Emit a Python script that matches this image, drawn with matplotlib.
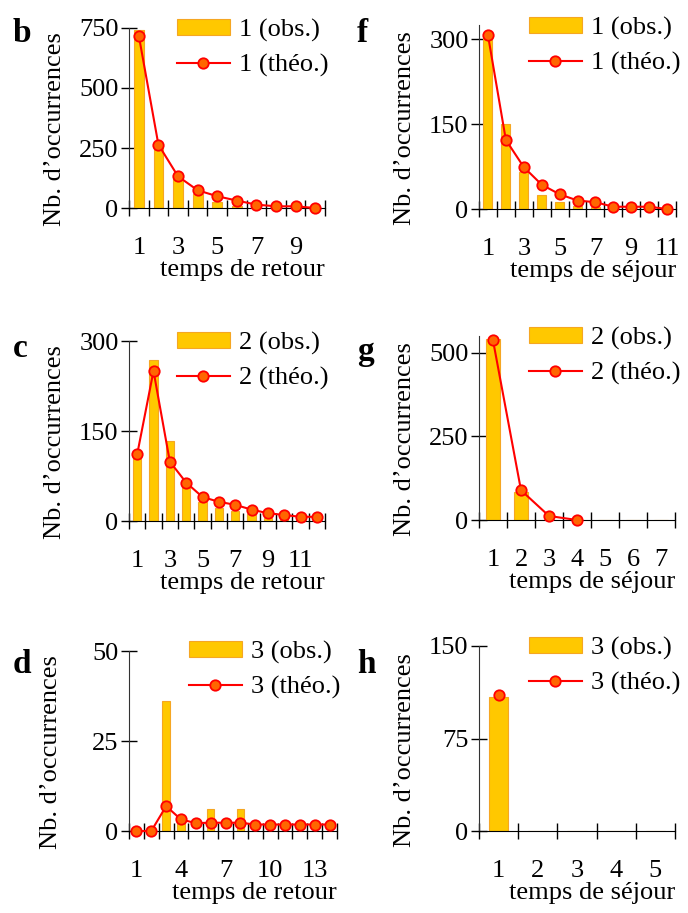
import numpy as np
import matplotlib
matplotlib.use("Agg")
import matplotlib.pyplot as plt
from matplotlib.ticker import FixedLocator

plt.rcParams['font.family'] = 'serif'
plt.rcParams['font.serif'] = ['Liberation Serif', 'Times New Roman', 'DejaVu Serif']
plt.rcParams['font.size'] = 19

# panel b : temps de retour, etat 1
b_obs = [740, 258, 125, 60, 25, 10, 3, 1, 0, 0]
b_theo = [718, 264, 132, 74, 49, 31, 14, 7, 7, 0]
# panel c : temps de retour, etat 2
c_obs = [110, 269, 133, 62, 31, 22, 17, 12, 5, 3, 2, 1]
c_theo = [111, 250, 99, 64, 40, 32, 27, 19, 13, 10, 7, 7]
# panel d : temps de retour, etat 3
d_obs = [0, 0, 36, 3, 0, 6.2, 0, 6.2, 0, 0, 0, 0, 0, 0]
d_theo = [0, 0, 6.9, 3.2, 2.2, 2.3, 2.3, 2.3, 1.8, 1.8, 1.8, 1.8, 1.8, 1.8]
# panel f : temps de sejour, etat 1
f_obs = [305, 150, 65, 25, 13, 5, 3, 1, 0, 0, 0]
f_theo = [307, 122, 74, 43, 26, 15, 12, 4, 4, 4, 0]
# panel g : temps de sejour, etat 2
g_obs = [540, 84, 0, 0, 0, 0, 0]
g_theo = [537, 89, 12, 0]
# panel h : temps de sejour, etat 3
h_obs = [109, 0, 0, 0, 0]
h_theo = [110]

panels = [
    # letter, state, obs, theo, yticks, ymax, xticks, xlabel
    ('b', '1', b_obs, b_theo, [0, 250, 500, 750], 750, [1, 3, 5, 7, 9], 'temps de retour'),
    ('c', '2', c_obs, c_theo, [0, 150, 300], 300, [1, 3, 5, 7, 9, 11], 'temps de retour'),
    ('d', '3', d_obs, d_theo, [0, 25, 50], 50, [1, 4, 7, 10, 13], 'temps de retour'),
    ('f', '1', f_obs, f_theo, [0, 150, 300], 325, [1, 3, 5, 7, 9, 11], 'temps de séjour'),
    ('g', '2', g_obs, g_theo, [0, 250, 500], 550, [1, 2, 3, 4, 5, 6, 7], 'temps de séjour'),
    ('h', '3', h_obs, h_theo, [0, 75, 150], 150, [1, 2, 3, 4, 5], 'temps de séjour'),
]

W, H = 688, 913
# axes rectangles in pixels: left, top, width, height
rects = [
    (129, 28, 196, 180),
    (129, 341, 196, 180),
    (129, 651, 208, 180),
    (479, 25, 197, 184),
    (479, 336, 196, 184),
    (479, 646, 196, 185),
]
# legend anchor (upper left, pixels) and panel letter baseline
leg_pos = [(177, 19), (177, 332), (189, 641), (529, 17), (529, 327), (529, 637)]
let_pos = [(13, 42), (13, 357), (13, 673), (357, 42), (357, 360), (357, 673)]

fig = plt.figure(figsize=(W / 100, H / 100), dpi=100)

for (letter, st, obs, theo, yt, ymax, xt, xlab), r, lp, tp in zip(panels, rects, leg_pos, let_pos):
    l, t, w, h = r
    ax = fig.add_axes([l / W, 1 - (t + h) / H, w / W, h / H])
    n = len(obs)
    x = np.arange(1, n + 1)
    bars = ax.bar(x, obs, width=0.5, color='#FFC800', edgecolor='#F5A623', linewidth=0.8,
                  zorder=2)
    line, = ax.plot(np.arange(1, len(theo) + 1), theo, '-o', color='#FF0000', lw=1.5,
                    mfc='#FF6600', mec='#FF0000', mew=1.3, ms=7.5, zorder=3, clip_on=False)
    ax.set_xlim(0.5, n + 0.5)
    ax.set_ylim(0, ymax)
    ax.spines['top'].set_visible(False)
    ax.spines['right'].set_visible(False)
    ax.spines['left'].set_color('#333333')
    # category boundaries carry the ticks, labels sit at the centres
    ax.xaxis.set_major_locator(FixedLocator(np.arange(0.5, n + 1)))
    ax.xaxis.set_major_formatter(plt.NullFormatter())
    ax.set_xticks(xt, [str(v) for v in xt], minor=True)
    ax.tick_params(axis='x', which='major', direction='inout', length=11, width=1)
    ax.tick_params(axis='x', which='minor', length=0, pad=21, labelsize=19)
    ax.set_yticks(yt)
    ax.tick_params(axis='y', direction='inout', length=11, width=1, pad=2, labelsize=19)
    ax.set_xlabel(xlab, loc='right', labelpad=0, fontsize=19)
    ax.set_ylabel('Nb. d\u2019occurrences', fontsize=19)
    ax.yaxis.set_label_coords(-0.32, 0.44)
    ax.legend([bars, line], [st + ' (obs.)', st + ' (théo.)'],
              loc='upper left', bbox_to_anchor=(lp[0] / W, 1 - lp[1] / H),
              bbox_transform=fig.transFigure, frameon=False, fontsize=19,
              handlelength=2.0, handleheight=0.55, handletextpad=0.35,
              labelspacing=0.45, borderpad=0, borderaxespad=0)
    fig.text(tp[0] / W, 1 - tp[1] / H, letter, fontsize=24, fontweight='bold',
             ha='left', va='baseline')

fig.savefig('out.png', dpi=100)
